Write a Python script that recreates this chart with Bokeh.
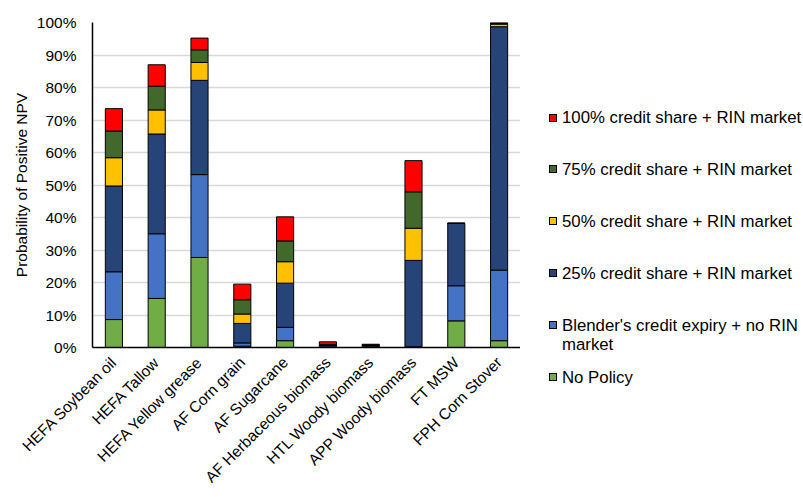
from bokeh.plotting import figure
from bokeh.layouts import row
from bokeh.models import ColumnDataSource, Range1d, NumeralTickFormatter, FixedTicker, Div
from bokeh.embed import file_html
from bokeh.resources import INLINE
import math

pathways = ["HEFA Soybean oil", "HEFA Tallow", "HEFA Yellow grease", "AF Corn grain",
            "AF Sugarcane", "AF Herbaceous biomass", "HTL Woody biomass",
            "APP Woody biomass", "FT MSW", "FPH Corn Stover"]

# probability of positive NPV (%) for each policy scenario, stacked bottom to top
no_policy   = [8.6, 15.1, 27.7, 0.4, 2.1, 0.05, 0.1, 0.1, 8.2, 2.1]
blender_exp = [14.7, 19.9, 25.5, 1.0, 4.1, 0.1, 0.1, 0.1, 10.8, 21.7]
share_25    = [26.4, 30.7, 29.0, 6.0, 13.6, 0.6, 0.4, 26.6, 19.2, 74.9]
share_50    = [8.7, 7.4, 5.5, 2.9, 6.6, 0.1, 0.1, 9.9, 0.0, 0.8]
share_75    = [8.2, 7.3, 3.9, 4.4, 6.4, 0.1, 0.1, 11.2, 0.0, 0.2]
share_100   = [6.9, 6.6, 3.6, 4.8, 7.4, 0.8, 0.2, 9.6, 0.0, 0.3]

series = ["no_policy", "blender_exp", "share_25", "share_50", "share_75", "share_100"]
labels = ["No Policy", "Blender's credit expiry + no RIN<br>market",
          "25% credit share + RIN market", "50% credit share + RIN market",
          "75% credit share + RIN market", "100% credit share + RIN market"]
colors = ["#70AD47", "#4472C4", "#264478", "#FFC000", "#43682B", "#FF0000"]

data = {"pathway": pathways}
for name, vals in zip(series, [no_policy, blender_exp, share_25, share_50, share_75, share_100]):
    data[name] = [v / 100.0 for v in vals]
source = ColumnDataSource(data)

FONT = "Liberation Sans"
H = 497

# --- stacked bar chart ---
p = figure(x_range=pathways, y_range=Range1d(0, 1), width=520, height=H,
           output_backend="svg", toolbar_location=None,
           min_border_left=92, min_border_right=0, min_border_top=22, min_border_bottom=150)
p.x_range.range_padding = 0

p.vbar_stack(series, x="pathway", width=0.4, source=source,
             fill_color=colors, line_color="black", line_width=1)

p.outline_line_color = None
p.xgrid.grid_line_color = None
p.ygrid.grid_line_color = "#D9D9D9"
p.ygrid.grid_line_width = 1.5

p.yaxis.ticker = FixedTicker(ticks=[i / 10 for i in range(11)])
p.yaxis.formatter = NumeralTickFormatter(format="0%")
p.yaxis.axis_label = "Probability of Positive NPV"
p.yaxis.axis_label_text_font = FONT
p.yaxis.axis_label_text_font_style = "normal"
p.yaxis.axis_label_text_font_size = "15.5px"
p.yaxis.axis_label_text_color = "black"
p.yaxis.axis_label_standoff = 4

for ax in (p.xaxis, p.yaxis):
    ax.major_tick_line_color = None
    ax.minor_tick_line_color = None
    ax.major_tick_out = 0
    ax.major_tick_in = 0
    ax.axis_line_color = "black"
    ax.axis_line_width = 1.5
    ax.major_label_text_font = FONT
    ax.major_label_text_color = "black"

p.yaxis.major_label_text_font_size = "15.5px"
p.xaxis.major_label_text_font_size = "15.5px"
p.xaxis.major_label_orientation = math.pi / 4
p.yaxis.major_label_standoff = 16
p.xaxis.major_label_standoff = 12

# --- legend column to the right of the chart (top entry = top of the stack) ---
first_center, step, line_h = 117.5, 51.9, 19
entries = []
for i, (lab, col) in enumerate(zip(labels[::-1], colors[::-1])):
    top = first_center + i * step - line_h / 2
    entries.append(
        f'<div style="position:absolute;left:29px;top:{top:.1f}px;line-height:{line_h}px;'
        f'white-space:nowrap;">'
        f'<span style="position:absolute;left:0;top:{(line_h - 8) / 2:.1f}px;width:8px;height:8px;'
        f'box-sizing:border-box;border:1px solid #000;background:{col};"></span>'
        f'<span style="position:absolute;left:13px;top:0;">{lab}</span></div>')

legend_html = (f'<div style="position:relative;width:283px;height:{H}px;font-family:\'{FONT}\';'
               f'font-size:16.8px;color:#000;">' + "".join(entries) + "</div>")
legend_box = Div(text=legend_html, width=283, height=H, margin=0)

open("out.html", "w").write(file_html(row(p, legend_box, spacing=0), INLINE))
